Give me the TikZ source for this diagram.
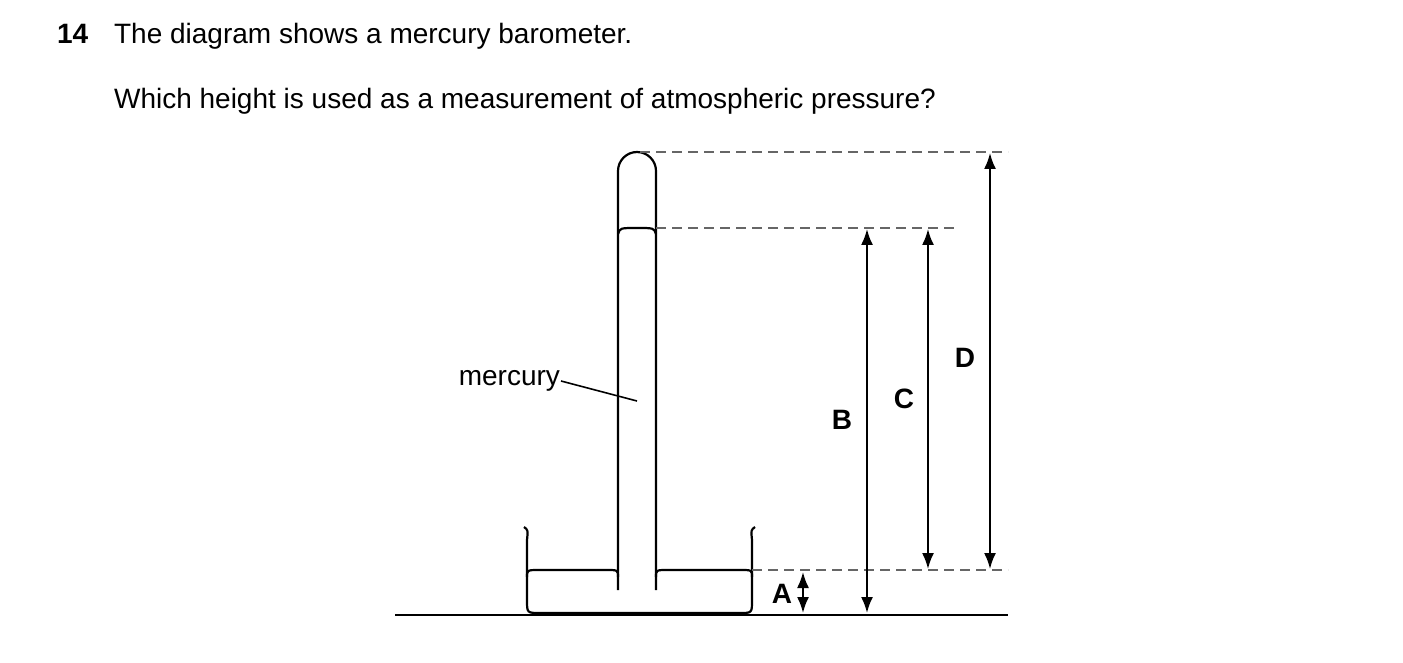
\documentclass[tikz,border=0pt]{standalone}
\usepackage{fontspec}
\setmainfont{Liberation Sans}
\usetikzlibrary{arrows.meta}

\begin{document}
\begin{tikzpicture}[x=0.5pt,y=-0.5pt,line width=1.1pt,
  txt/.style={font=\fontsize{14}{16}\selectfont,inner sep=0pt},
  lbl/.style={font=\fontsize{14}{16}\selectfont\bfseries,inner sep=0pt},
  dim/.style={{Latex[length=8pt,width=6pt]}-{Latex[length=8pt,width=6pt]},line width=1pt},
  guide/.style={dashed,gray!80!black,line width=0.7pt,dash pattern=on 5pt off 3pt}]

\useasboundingbox (0,0) rectangle (1403,663);

% question text
\node[lbl,anchor=base west] (num) at (56,44) {14};
\node[txt,anchor=base west] (q1) at (113,44) {The diagram shows a mercury barometer.};
\node[txt,anchor=base west] (q2) at (113,109) {Which height is used as a measurement of atmospheric pressure?};

% ground and dish
\draw (395,615) -- (1008,615);
\draw (524,527) .. controls (528,530) .. (527,540) -- (527,600) .. controls (527,613) .. (540,613)
  -- (740,613) .. controls (752,613) .. (752,600) -- (752,540) .. controls (751,530) .. (755,527);
\draw (527,577) .. controls (527,570) .. (540,570) -- (606,570) .. controls (618,570) .. (618,577);
\draw (656,577) .. controls (656,570) .. (668,570) -- (740,570) .. controls (752,570) .. (752,577);

% tube
\draw (618,590) -- (618,171) arc (180:360:19) -- (656,590);
\draw (618,234) .. controls (620,228) .. (637,228) .. controls (654,228) .. (656,234);

% guide lines
\draw[guide] (640,152) -- (1008,152);
\draw[guide] (656,228) -- (958,228);
\draw[guide] (752,570) -- (1008,570);

% heights
\coordinate (a1) at (803,572); \coordinate (a0) at (803,613);
\coordinate (b1) at (867,229); \coordinate (b0) at (867,613);
\coordinate (c1) at (928,229); \coordinate (c0) at (928,569);
\coordinate (d1) at (990,153); \coordinate (d0) at (990,569);
\draw[dim] (a1) -- (a0);
\draw[dim] (b1) -- (b0);
\draw[dim] (c1) -- (c0);
\draw[dim] (d1) -- (d0);
\node[lbl] (A) at (782,594) {A};
\node[lbl] (B) at (842,420) {B};
\node[lbl] (C) at (904,399) {C};
\node[lbl] (D) at (965,358) {D};

% label
\node[txt,anchor=east] (merc) at (561,381) {mercury};
\coordinate (mp) at (637,401);
\draw[line width=0.8pt] (merc.east) -- (mp);

\end{tikzpicture}
\end{document}
